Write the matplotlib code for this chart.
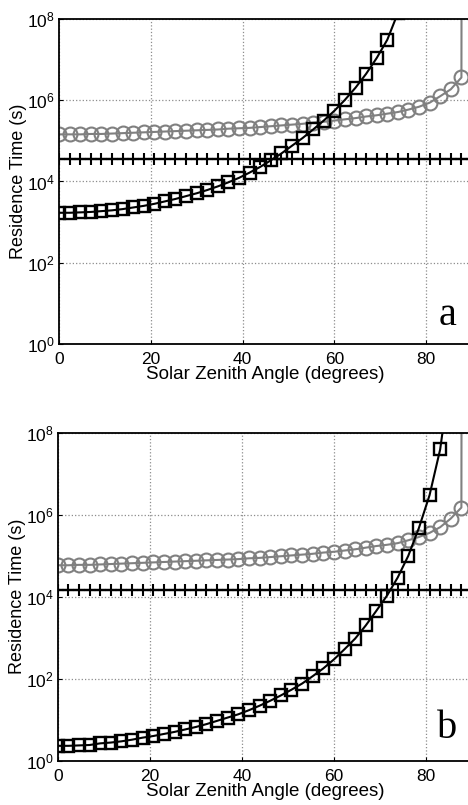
import numpy as np
import matplotlib.pyplot as plt

plt.rcParams['font.family'] = ['Liberation Sans', 'DejaVu Sans']
plt.rcParams['mathtext.fontset'] = 'custom'
plt.rcParams['mathtext.rm'] = 'Liberation Sans'

# solar zenith angle samples (degrees), 40 points from 0 to 90
angle = [0.00, 2.31, 4.62, 6.92, 9.23, 11.54, 13.85, 16.15, 18.46, 20.77,
         23.08, 25.38, 27.69, 30.00, 32.31, 34.62, 36.92, 39.23, 41.54, 43.85,
         46.15, 48.46, 50.77, 53.08, 55.38, 57.69, 60.00, 62.31, 64.62, 66.92,
         69.23, 71.54, 73.85, 76.15, 78.46, 80.77, 83.08, 85.38, 87.69, 90.00]

# log10 of residence time (s)
# panel a
a_circle = [5.16, 5.16, 5.16, 5.17, 5.17, 5.18, 5.19, 5.20, 5.21, 5.22,
            5.23, 5.24, 5.25, 5.26, 5.27, 5.28, 5.30, 5.31, 5.32, 5.34,
            5.36, 5.38, 5.40, 5.42, 5.45, 5.47, 5.50, 5.53, 5.56, 5.60,
            5.63, 5.67, 5.71, 5.77, 5.84, 5.94, 6.10, 6.27, 6.56, 200.0]
a_square = [3.23, 3.23, 3.24, 3.25, 3.27, 3.29, 3.32, 3.36, 3.40, 3.45,
            3.51, 3.57, 3.64, 3.71, 3.79, 3.88, 3.98, 4.09, 4.22, 4.36,
            4.52, 4.69, 4.88, 5.07, 5.28, 5.50, 5.74, 6.01, 6.31, 6.65,
            7.04, 7.49, 8.15, 9.00, 10.0, 11.5, 13.0, 15.0, 18.0, 200.0]
a_plus = 4.55

# panel b
b_circle = [4.77, 4.77, 4.78, 4.78, 4.79, 4.80, 4.81, 4.82, 4.83, 4.84,
            4.85, 4.86, 4.87, 4.88, 4.89, 4.90, 4.91, 4.92, 4.94, 4.95,
            4.97, 4.99, 5.01, 5.03, 5.05, 5.08, 5.10, 5.13, 5.16, 5.20,
            5.24, 5.27, 5.31, 5.38, 5.46, 5.56, 5.70, 5.91, 6.18, 200.0]
b_square = [0.36, 0.36, 0.37, 0.38, 0.42, 0.44, 0.47, 0.51, 0.56, 0.60,
            0.65, 0.70, 0.76, 0.82, 0.89, 0.97, 1.05, 1.13, 1.23, 1.34,
            1.46, 1.59, 1.73, 1.88, 2.06, 2.25, 2.47, 2.72, 2.98, 3.30,
            3.66, 4.03, 4.47, 5.00, 5.68, 6.48, 7.60, 9.50, 12.0, 200.0]
b_plus = 4.16

panels = [
    ('a', a_circle, a_square, a_plus, [0.1261, 0.5727, 0.8825, 0.4037], 0.058),
    ('b', b_circle, b_square, b_plus, [0.1233, 0.0552, 0.8853, 0.4069], 0.069),
]

fig = plt.figure(figsize=(4.68, 8.05), dpi=100)

for letter, circ, sq, plus, rect, ly in panels:
    ax = fig.add_axes(rect)
    x = np.array(angle)
    ax.semilogy(x, np.full(len(x), 10.0 ** plus), color='black', lw=1.7,
                marker='+', ms=8, mew=1.5)
    ax.semilogy(x, 10.0 ** np.array(circ), color='0.5', lw=1.5,
                marker='o', ms=10, mfc='none', mew=1.5)
    ax.semilogy(x, 10.0 ** np.array(sq), color='black', lw=1.5,
                marker='s', ms=8.6, mfc='none', mew=1.7)

    ax.set_xlim(0, 90)
    ax.set_ylim(1, 1e8)
    ax.set_xticks([0, 20, 40, 60, 80])
    ax.set_yticks([1, 1e2, 1e4, 1e6, 1e8])
    ax.yaxis.set_minor_locator(plt.NullLocator())
    ax.grid(True, which='major', linestyle=':', color='0.55', lw=0.9)
    ax.tick_params(direction='in', length=3, labelsize=12.5)
    ax.tick_params(axis='x', pad=6)
    ax.tick_params(axis='y', pad=3)
    for s in ['left', 'bottom', 'top']:
        ax.spines[s].set_linewidth(1.3)
    ax.spines['right'].set_visible(False)

    ax.set_xlabel('Solar Zenith Angle (degrees)', fontsize=13.5, labelpad=-1)
    ax.set_ylabel('Residence Time (s)', fontsize=13, labelpad=0)
    ax.text(0.94, ly, letter, transform=ax.transAxes, fontsize=29,
            family='Liberation Serif', ha='center', va='baseline')

fig.savefig('out.png', dpi=100)
